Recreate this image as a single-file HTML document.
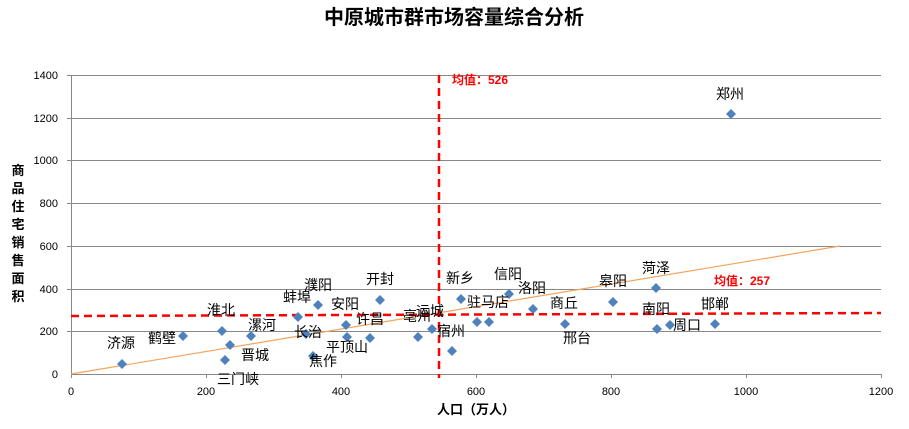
<!DOCTYPE html>
<html><head><meta charset="utf-8"><style>
body{margin:0;background:#fff}
svg text{font-family:"Liberation Sans","Noto Sans CJK SC",sans-serif}
</style></head><body>
<svg width="909" height="424" xmlns="http://www.w3.org/2000/svg">
<text x="454" y="24" text-anchor="middle" font-size="20" font-weight="bold">中原城市群市场容量综合分析</text>
<g stroke="#888" stroke-width="1">
<line x1="71" y1="75.5" x2="881" y2="75.5"/>
<line x1="71" y1="118.5" x2="881" y2="118.5"/>
<line x1="71" y1="160.5" x2="881" y2="160.5"/>
<line x1="71" y1="203.5" x2="881" y2="203.5"/>
<line x1="71" y1="246.5" x2="881" y2="246.5"/>
<line x1="71" y1="289.5" x2="881" y2="289.5"/>
<line x1="71" y1="331.5" x2="881" y2="331.5"/>
<line x1="71" y1="374.5" x2="881" y2="374.5"/>
<line x1="71.5" y1="75" x2="71.5" y2="378"/>
</g>
<g stroke="#888">
<line x1="67" y1="75.5" x2="71" y2="75.5"/><line x1="67" y1="118.5" x2="71" y2="118.5"/><line x1="67" y1="160.5" x2="71" y2="160.5"/><line x1="67" y1="203.5" x2="71" y2="203.5"/><line x1="67" y1="246.5" x2="71" y2="246.5"/><line x1="67" y1="289.5" x2="71" y2="289.5"/><line x1="67" y1="331.5" x2="71" y2="331.5"/>
<line x1="206.5" y1="374" x2="206.5" y2="378"/><line x1="341.5" y1="374" x2="341.5" y2="378"/><line x1="476.5" y1="374" x2="476.5" y2="378"/><line x1="611.5" y1="374" x2="611.5" y2="378"/><line x1="746.5" y1="374" x2="746.5" y2="378"/><line x1="881.5" y1="374" x2="881.5" y2="378"/>
</g>
<g font-size="11" text-anchor="end">
<text x="58" y="79">1400</text><text x="58" y="122">1200</text><text x="58" y="164">1000</text><text x="58" y="207">800</text><text x="58" y="250">600</text><text x="58" y="293">400</text><text x="58" y="335">200</text><text x="58" y="378">0</text>
</g>
<g font-size="11" text-anchor="middle">
<text x="71" y="395">0</text><text x="206" y="395">200</text><text x="341" y="395">400</text><text x="476" y="395">600</text><text x="611" y="395">800</text><text x="746" y="395">1000</text><text x="881" y="395">1200</text>
</g>
<text x="476" y="414" text-anchor="middle" font-size="13" font-weight="bold">人口（万人）</text>
<g font-size="13" font-weight="bold" text-anchor="middle">
<text x="18" y="175">商</text><text x="18" y="193">品</text><text x="18" y="211">住</text><text x="18" y="229">宅</text><text x="18" y="247">销</text><text x="18" y="265">售</text><text x="18" y="283">面</text><text x="18" y="301">积</text>
</g>
<line x1="71" y1="374" x2="840" y2="246" stroke="#f4a460" stroke-width="1.2"/>
<line x1="439" y1="75" x2="439" y2="378" stroke="#f00" stroke-width="2.5" stroke-dasharray="8,5"/>
<line x1="71" y1="316" x2="881" y2="313" stroke="#f00" stroke-width="2.5" stroke-dasharray="8,5"/>
<text x="452" y="84" font-size="12" font-weight="bold" fill="#f00">均值：526</text>
<text x="714" y="285" font-size="12" font-weight="bold" fill="#f00">均值：257</text>
<g fill="#4f81bd">
<path id="d" d="M0,-5L5,0L0,5L-5,0Z" transform="translate(122,364)"/>
<path d="M0,-5L5,0L0,5L-5,0Z" transform="translate(183,336)"/>
<path d="M0,-5L5,0L0,5L-5,0Z" transform="translate(222,331)"/>
<path d="M0,-5L5,0L0,5L-5,0Z" transform="translate(230,345)"/>
<path d="M0,-5L5,0L0,5L-5,0Z" transform="translate(225,360)"/>
<path d="M0,-5L5,0L0,5L-5,0Z" transform="translate(251,336)"/>
<path d="M0,-5L5,0L0,5L-5,0Z" transform="translate(298,317)"/>
<path d="M0,-5L5,0L0,5L-5,0Z" transform="translate(306,334)"/>
<path d="M0,-5L5,0L0,5L-5,0Z" transform="translate(318,305)"/>
<path d="M0,-5L5,0L0,5L-5,0Z" transform="translate(313,356)"/>
<path d="M0,-5L5,0L0,5L-5,0Z" transform="translate(346,325)"/>
<path d="M0,-5L5,0L0,5L-5,0Z" transform="translate(347,337)"/>
<path d="M0,-5L5,0L0,5L-5,0Z" transform="translate(370,338)"/>
<path d="M0,-5L5,0L0,5L-5,0Z" transform="translate(380,300)"/>
<path d="M0,-5L5,0L0,5L-5,0Z" transform="translate(418,337)"/>
<path d="M0,-5L5,0L0,5L-5,0Z" transform="translate(432,329)"/>
<path d="M0,-5L5,0L0,5L-5,0Z" transform="translate(452,351)"/>
<path d="M0,-5L5,0L0,5L-5,0Z" transform="translate(461,299)"/>
<path d="M0,-5L5,0L0,5L-5,0Z" transform="translate(477,322)"/>
<path d="M0,-5L5,0L0,5L-5,0Z" transform="translate(489,322)"/>
<path d="M0,-5L5,0L0,5L-5,0Z" transform="translate(509,294)"/>
<path d="M0,-5L5,0L0,5L-5,0Z" transform="translate(533,309)"/>
<path d="M0,-5L5,0L0,5L-5,0Z" transform="translate(565,324)"/>
<path d="M0,-5L5,0L0,5L-5,0Z" transform="translate(613,302)"/>
<path d="M0,-5L5,0L0,5L-5,0Z" transform="translate(656,288)"/>
<path d="M0,-5L5,0L0,5L-5,0Z" transform="translate(657,329)"/>
<path d="M0,-5L5,0L0,5L-5,0Z" transform="translate(670,325)"/>
<path d="M0,-5L5,0L0,5L-5,0Z" transform="translate(715,324)"/>
<path d="M0,-5L5,0L0,5L-5,0Z" transform="translate(731,114)"/>
</g>
<g font-size="14" fill="#000">
<text x="107" y="348">济源</text>
<text x="148" y="343">鹤壁</text>
<text x="207" y="315">淮北</text>
<text x="241" y="360">晋城</text>
<text x="217" y="384">三门峡</text>
<text x="248" y="330">漯河</text>
<text x="283" y="302">蚌埠</text>
<text x="294" y="337">长治</text>
<text x="304" y="290">濮阳</text>
<text x="309" y="366">焦作</text>
<text x="331" y="309">安阳</text>
<text x="326" y="352">平顶山</text>
<text x="356" y="324">许昌</text>
<text x="366" y="284">开封</text>
<text x="403" y="321">亳州</text>
<text x="416" y="316">运城</text>
<text x="437" y="336">宿州</text>
<text x="446" y="283">新乡</text>
<text x="467" y="307">驻马店</text>
<text x="494" y="279">信阳</text>
<text x="518" y="293">洛阳</text>
<text x="550" y="308">商丘</text>
<text x="563" y="343">邢台</text>
<text x="599" y="286">皋阳</text>
<text x="642" y="273">菏泽</text>
<text x="642" y="314">南阳</text>
<text x="673" y="330">周口</text>
<text x="701" y="309">邯郸</text>
<text x="716" y="99">郑州</text>
</g>
</svg>
</body></html>
